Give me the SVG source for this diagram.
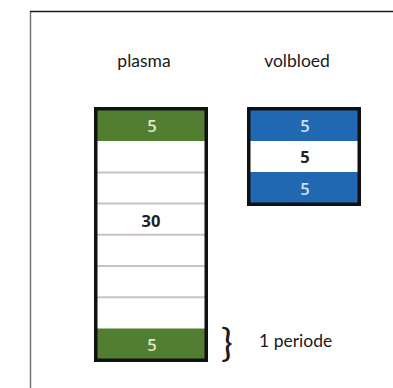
<svg xmlns="http://www.w3.org/2000/svg" width="393" height="388" viewBox="0 0 393 388">
  <style>
    .lbl { font-family: Lato, "Open Sans", "Liberation Sans", sans-serif; font-size: 17.5px; fill: #1a1a1a; }
    .num { font-family: "Open Sans", "Liberation Sans", sans-serif; font-size: 16.5px; font-weight: 600; text-anchor: middle; }
    .on-green { fill: #dfe6c9; }
    .on-blue { fill: #cfe0f2; }
    .on-white { fill: #222222; font-weight: 700; }
    .green { fill: #517e31; }
    .blue { fill: #2068b2; }
    .sep { stroke: #c9c4c4; stroke-width: 2; }
    .box { fill: none; stroke: #111111; stroke-width: 3.5; }
  </style>
  <rect width="393" height="388" fill="#ffffff"/>
  <!-- page frame -->
  <line x1="30.5" y1="11" x2="30.5" y2="388" stroke="#6e6e6e" stroke-width="1.4"/>
  <line x1="30" y1="11.5" x2="393" y2="11.5" stroke="#1a1a1a" stroke-width="1.4"/>

  <g id="plasma">
    <text class="lbl" x="144" y="67" text-anchor="middle">plasma</text>
    <rect class="green" x="96" y="109" width="111" height="32"/>
    <rect class="green" x="96" y="328.5" width="111" height="32"/>
    <line class="sep" x1="96" y1="172.4" x2="206" y2="172.4"/>
    <line class="sep" x1="96" y1="203.6" x2="206" y2="203.6"/>
    <line class="sep" x1="96" y1="234.8" x2="206" y2="234.8"/>
    <line class="sep" x1="96" y1="266" x2="206" y2="266"/>
    <line class="sep" x1="96" y1="297.2" x2="206" y2="297.2"/>
    <rect class="box" x="95.75" y="108.75" width="110.5" height="251.5"/>
    <text class="num on-green" x="152" y="131.5">5</text>
    <text class="num on-white" x="151" y="227" font-size="19.5">30</text>
    <text class="num on-green" x="152" y="350.5">5</text>
  </g>

  <g id="volbloed">
    <text class="lbl" x="297" y="67" text-anchor="middle">volbloed</text>
    <rect class="blue" x="249" y="109" width="111" height="32"/>
    <rect class="blue" x="249" y="172" width="111" height="32"/>
    <rect class="box" x="248.75" y="108.75" width="110.5" height="95.5"/>
    <text class="num on-blue" x="305" y="131.5">5</text>
    <text class="num on-white" x="305" y="163">5</text>
    <text class="num on-blue" x="305" y="194.5">5</text>
  </g>

  <g id="periode">
    <text x="221" y="356" font-family="Lato, 'Open Sans', sans-serif" font-size="39" fill="#1a1a1a">}</text>
    <text class="lbl" x="259" y="347">1 periode</text>
  </g>
</svg>
